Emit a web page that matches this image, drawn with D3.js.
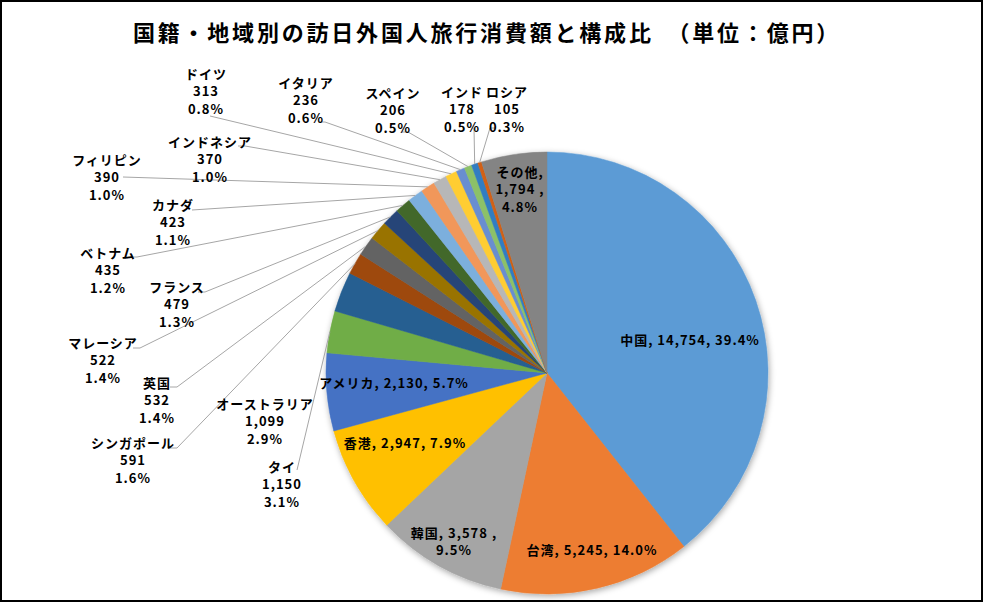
<!DOCTYPE html>
<html>
<head>
<meta charset="utf-8">
<script src="https://cdn.jsdelivr.net/npm/d3@7"></script>
<style>
  body { margin: 0; background: #fff; }
  svg text { font-family: "Noto Sans CJK JP", "Noto Sans", sans-serif; fill: #000; }
</style>
</head>
<body>
<svg width="984" height="603"></svg>
<script>
// Data
var categories = ["中国", "台湾", "韓国", "香港", "アメリカ", "タイ", "オーストラリア", "シンガポール", "英国", "マレーシア",
  "フランス", "ベトナム", "カナダ", "フィリピン", "インドネシア", "ドイツ", "イタリア", "スペイン", "インド", "ロシア", "その他"];
var values = [14754, 5245, 3578, 2947, 2130, 1150, 1099, 591, 532, 522,
  479, 435, 423, 390, 370, 313, 236, 206, 178, 105, 1794];
var colors = ["#5B9BD5", "#ED7D31", "#A5A5A5", "#FFC000", "#4472C4", "#70AD47", "#255E91", "#9E480E", "#636363", "#997300",
  "#264478", "#43682B", "#7CAFDD", "#F1975A", "#B7B7B7", "#FFCD33", "#698ED0", "#8CC168", "#327DC2", "#D26012", "#848484"];
var title = "国籍・地域別の訪日外国人旅行消費額と構成比　（単位：億円）";

// Label placement (x = centre, y = first line centre, mode: how text is split, attach = leader start, stub = horizontal tick)
var labelLayout = [
  { x: 690, y: 340, mode: "one" },
  { x: 592, y: 550, mode: "one" },
  { x: 454, y: 533, mode: "two" },
  { x: 405, y: 443, mode: "one" },
  { x: 394, y: 383, mode: "one" },
  { x: 282, y: 467, mode: "out", attach: [297, 470], stub: 0 },
  { x: 265, y: 404, mode: "out" },
  { x: 133, y: 443, mode: "out", attach: [170, 448], stub: 7 },
  { x: 157, y: 383, mode: "out", attach: [170, 387], stub: 7 },
  { x: 103, y: 343, mode: "out", attach: [133, 348], stub: 7 },
  { x: 177, y: 287, mode: "out", attach: [198, 292], stub: 7 },
  { x: 108, y: 253, mode: "out", attach: [130, 257], stub: 7 },
  { x: 173, y: 205, mode: "out", attach: [192, 210], stub: 0 },
  { x: 107, y: 160, mode: "out", attach: [123, 177], stub: 0 },
  { x: 210, y: 142, mode: "out", attach: [238, 146], stub: 7 },
  { x: 206, y: 74, mode: "out", attach: [210, 116], stub: 0 },
  { x: 306, y: 83, mode: "out", attach: [318, 122], stub: 7 },
  { x: 393, y: 93, mode: "out", attach: [402, 132], stub: 6 },
  { x: 462, y: 92, mode: "out", attach: [474, 128], stub: 0 },
  { x: 507, y: 92, mode: "out", attach: [496, 128], stub: -6 },
  { x: 520, y: 172, mode: "three" }
];

var svg = d3.select("svg");
var width = +svg.attr("width");
var height = +svg.attr("height");
var cx = 547, cy = 373, radius = 221;
var lineGap = 17.5;

var total = d3.sum(values);
var fmtVal = d3.format(",");
var fmtPct = d3.format(".1%");

// Frame
svg.append("rect")
  .attr("x", 1).attr("y", 1)
  .attr("width", width - 3).attr("height", height - 3)
  .attr("fill", "#fff")
  .attr("stroke", "#000")
  .attr("stroke-width", 2);

// Title
svg.append("text")
  .attr("x", 487)
  .attr("y", 41)
  .attr("text-anchor", "middle")
  .attr("font-size", 22)
  .attr("font-weight", "bold")
  .attr("letter-spacing", 2.8)
  .text(title);

// Shadow filter
var defs = svg.append("defs");
var filter = defs.append("filter").attr("id", "shadow")
  .attr("x", "-10%").attr("y", "-10%").attr("width", "120%").attr("height", "120%");
filter.append("feDropShadow")
  .attr("dx", 1).attr("dy", 2)
  .attr("stdDeviation", 3)
  .attr("flood-color", "#000")
  .attr("flood-opacity", 0.35);

var rows = categories.map(function(c, i) {
  return { name: c, value: values[i], color: colors[i], layout: labelLayout[i] };
});

var pie = d3.pie()
  .sort(null)
  .value(function(d) { return d.value; });

var arc = d3.arc()
  .innerRadius(0)
  .outerRadius(radius);

var arcs = pie(rows);

var g = svg.append("g")
  .attr("transform", "translate(" + cx + "," + cy + ")");

g.append("g")
  .attr("filter", "url(#shadow)")
  .selectAll("path")
  .data(arcs)
  .enter().append("path")
  .attr("d", arc)
  .attr("fill", function(d) { return d.data.color; })
  .attr("stroke", function(d) { return d.data.color; })
  .attr("stroke-width", 0.5);

// Leader lines
var leaders = arcs.filter(function(d) { return d.data.layout.attach; });
svg.selectAll(".leader")
  .data(leaders)
  .enter().append("polyline")
  .attr("class", "leader")
  .attr("fill", "none")
  .attr("stroke", "#A6A6A6")
  .attr("stroke-width", 1)
  .attr("points", function(d) {
    var L = d.data.layout;
    var a = (d.startAngle + d.endAngle) / 2;
    var ex = cx + radius * Math.sin(a);
    var ey = cy - radius * Math.cos(a);
    var p = [L.attach, [L.attach[0] + L.stub, L.attach[1]], [ex, ey]];
    return p.map(function(q) { return q.join(","); }).join(" ");
  });

// Labels
function labelLines(d) {
  var name = d.data.name;
  var v = fmtVal(d.data.value);
  var p = fmtPct(d.data.value / total);
  var mode = d.data.layout.mode;
  if (mode == "one") return [name + ", " + v + ", " + p];
  if (mode == "two") return [name + ", " + v + " ,", p];
  if (mode == "three") return [name + ",", v + " ,", p];
  return [name, v, p];
}

var labels = svg.selectAll(".label")
  .data(arcs)
  .enter().append("text")
  .attr("class", "label")
  .attr("text-anchor", "middle")
  .attr("font-size", 13)
  .attr("font-weight", "bold")
  .attr("letter-spacing", 1);

labels.each(function(d) {
  var L = d.data.layout;
  var t = d3.select(this);
  labelLines(d).forEach(function(s, i) {
    t.append("tspan")
      .attr("x", L.x)
      .attr("y", L.y + i * lineGap)
      .attr("dy", "0.36em")
      .text(s);
  });
});
</script>
</body>
</html>
